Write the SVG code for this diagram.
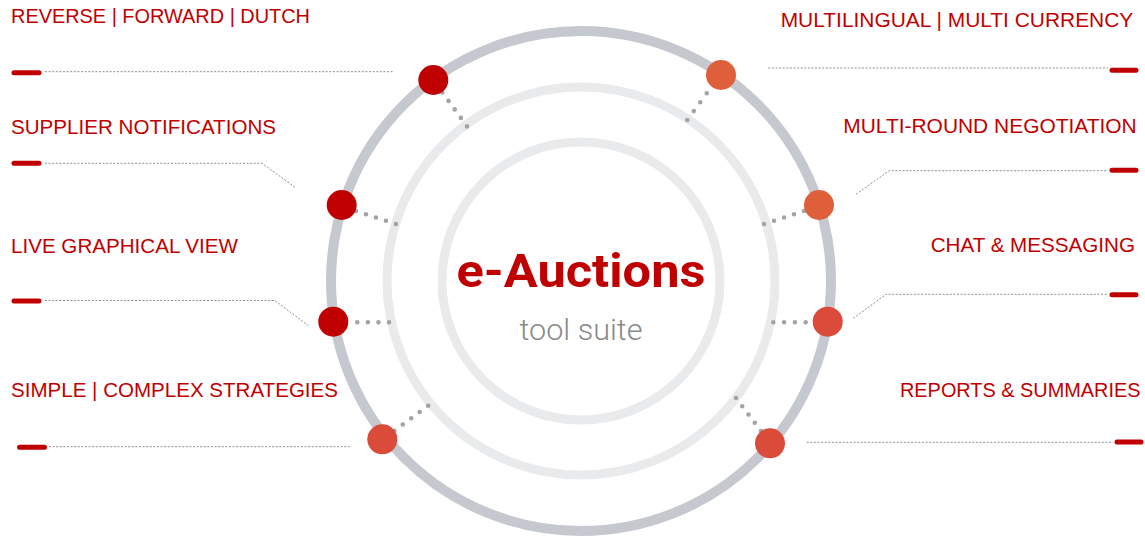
<svg xmlns="http://www.w3.org/2000/svg" width="1145" height="540" viewBox="0 0 1145 540">
  <style>
    .ring-outer { fill: none; stroke: #c5c8cf; stroke-width: 10; }
    .ring-inner { fill: none; stroke: #e9eaec; stroke-width: 9; }
    .lbl { font-family: "Liberation Sans", Arial, sans-serif; font-size: 21px; fill: #c00000; }
    .dots { fill: none; stroke: #a3a3a3; stroke-width: 4.6; stroke-linecap: round; stroke-dasharray: 0 10.5; }
    .lead { fill: none; stroke: #8f8f8f; stroke-width: 1; stroke-dasharray: 2 1.6; }
    .tick { fill: none; stroke: #c00000; stroke-width: 5; stroke-linecap: round; }
    .n-dark { fill: #c00000; }
    .n-orange { fill: #df5f3a; }
    .n-red { fill: #db4b3a; }
  </style>

  <g id="rings">
    <circle class="ring-outer" cx="581" cy="281" r="250"/>
    <circle class="ring-inner" cx="581" cy="281" r="194"/>
    <circle class="ring-inner" cx="581" cy="281" r="139"/>
  </g>

  <g id="center">
    <text x="581" y="286.5" text-anchor="middle" font-family="Roboto, 'Liberation Sans', sans-serif" font-weight="700" font-size="47" fill="#c00000" textLength="249" lengthAdjust="spacingAndGlyphs">e-Auctions</text>
    <text x="581" y="340" text-anchor="middle" font-family="Roboto, 'Liberation Sans', sans-serif" font-weight="300" font-size="30" fill="#8a8a8a" textLength="123" lengthAdjust="spacingAndGlyphs">tool suite</text>
  </g>

  <g id="connectors">
    <line class="lead" x1="45" y1="71.7" x2="393" y2="71.7"/>
    <line class="tick" x1="14" y1="72.7" x2="39" y2="72.7"/>
    <polyline class="lead" points="45,163.3 262,163.3 295,187.3"/>
    <line class="tick" x1="14" y1="163.3" x2="39" y2="163.3"/>
    <polyline class="lead" points="45,300.5 275,300.5 308.3,325.7"/>
    <line class="tick" x1="14" y1="301" x2="39" y2="301"/>
    <line class="lead" x1="49" y1="446.7" x2="351.7" y2="446.7"/>
    <line class="tick" x1="19.5" y1="447.3" x2="44.5" y2="447.3"/>

    <line class="lead" x1="768.3" y1="68" x2="1108" y2="68"/>
    <line class="tick" x1="1112" y1="70.3" x2="1136" y2="70.3"/>
    <polyline class="lead" points="856,194.3 889.3,170.7 1108,170.7"/>
    <line class="tick" x1="1112" y1="170.2" x2="1136" y2="170.2"/>
    <polyline class="lead" points="853.3,318.3 886,294.3 1108,294.3"/>
    <line class="tick" x1="1112" y1="294.7" x2="1136" y2="294.7"/>
    <line class="lead" x1="806.7" y1="442.3" x2="1113" y2="442.3"/>
    <line class="tick" x1="1117" y1="442" x2="1141" y2="442"/>
  </g>

  <g id="node-reverse-forward-dutch">
    <text class="lbl" x="11" y="23.3" textLength="299" lengthAdjust="spacingAndGlyphs">REVERSE | FORWARD | DUTCH</text>
    <line class="dots" x1="442.4" y1="92.4" x2="467.6" y2="127.2"/>
    <circle class="n-dark" cx="433.3" cy="80" r="15"/>
  </g>

  <g id="node-supplier-notifications">
    <text class="lbl" x="11" y="134" textLength="265" lengthAdjust="spacingAndGlyphs">SUPPLIER NOTIFICATIONS</text>
    <line class="dots" x1="356" y1="211" x2="396.6" y2="224.3"/>
    <circle class="n-dark" cx="341.7" cy="205" r="15"/>
  </g>

  <g id="node-live-graphical-view">
    <text class="lbl" x="11" y="252.5" textLength="227" lengthAdjust="spacingAndGlyphs">LIVE GRAPHICAL VIEW</text>
    <line class="dots" x1="357.3" y1="322.3" x2="390" y2="322.3" style="stroke-dasharray: 0 10.57"/>
    <circle class="n-dark" cx="333.3" cy="321.7" r="15"/>
  </g>

  <g id="node-simple-complex-strategies">
    <text class="lbl" x="11" y="397" textLength="327" lengthAdjust="spacingAndGlyphs">SIMPLE  | COMPLEX STRATEGIES</text>
    <line class="dots" x1="394.3" y1="430.7" x2="429.2" y2="405"/>
    <circle class="n-red" cx="382.3" cy="439.3" r="15"/>
  </g>

  <g id="node-multilingual-multi-currency">
    <text class="lbl" x="780.7" y="26.7" textLength="352.6" lengthAdjust="spacingAndGlyphs">MULTILINGUAL | MULTI CURRENCY</text>
    <line class="dots" x1="713.2" y1="84.4" x2="686.7" y2="120.8" style="stroke-dasharray: 0 11.0"/>
    <circle class="n-orange" cx="721" cy="75" r="15"/>
  </g>

  <g id="node-multi-round-negotiation">
    <text class="lbl" x="843.3" y="132.7" textLength="293.4" lengthAdjust="spacingAndGlyphs">MULTI-ROUND NEGOTIATION</text>
    <line class="dots" x1="804" y1="211" x2="763.4" y2="224.2"/>
    <circle class="n-orange" cx="819" cy="205" r="15"/>
  </g>

  <g id="node-chat-messaging">
    <text class="lbl" x="930.7" y="251.7" textLength="204.3" lengthAdjust="spacingAndGlyphs">CHAT &amp; MESSAGING</text>
    <line class="dots" x1="805.7" y1="322.3" x2="772.5" y2="322.3" style="stroke-dasharray: 0 10.8"/>
    <circle class="n-red" cx="827.7" cy="321.7" r="15"/>
  </g>

  <g id="node-reports-summaries">
    <text class="lbl" x="900" y="397" style="font-size:20px" textLength="240.5" lengthAdjust="spacingAndGlyphs">REPORTS &amp; SUMMARIES</text>
    <line class="dots" x1="761" y1="431" x2="735.7" y2="397.6" style="stroke-dasharray: 0 10.35"/>
    <circle class="n-red" cx="770" cy="443.3" r="15"/>
  </g>
</svg>
